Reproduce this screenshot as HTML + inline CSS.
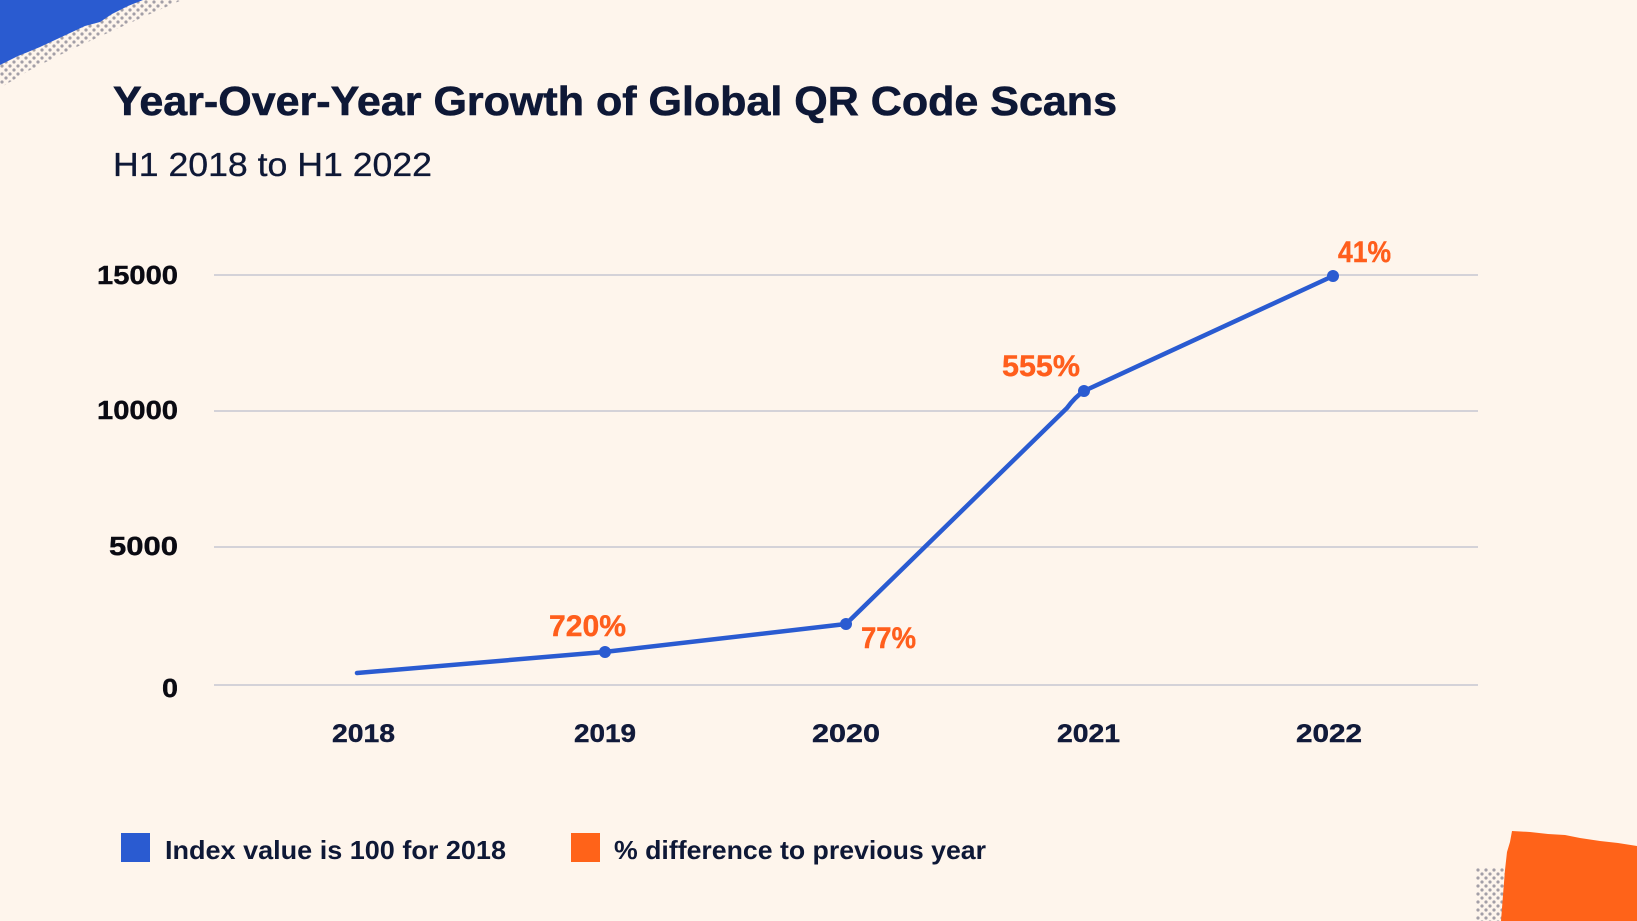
<!DOCTYPE html>
<html>
<head>
<meta charset="utf-8">
<style>
  html,body{margin:0;padding:0;background:#fef5ec;}
  svg{display:block;}
  text{font-family:"Liberation Sans",Arial,sans-serif;}
</style>
</head>
<body>
<svg width="1637" height="921" viewBox="0 0 1637 921" xmlns="http://www.w3.org/2000/svg">
  <defs>
    <pattern id="dots" x="0" y="0" width="8" height="8" patternUnits="userSpaceOnUse">
      <circle cx="2" cy="2" r="1.6" fill="#a39fa7"/>
      <circle cx="6" cy="6" r="1.6" fill="#a39fa7"/>
    </pattern>
  </defs>
  <rect x="0" y="0" width="1637" height="921" fill="#fef5ec"/>

  <!-- top-left decoration -->
  <polygon points="0,0 182,0 150,14 110,32 70,50 30,70 0,88" fill="url(#dots)"/>
  <polygon points="0,0 143,0 128,6 112,14 100,22 85,26 70,33 55,40 40,47 28,52 18,56 8,61 0,65" fill="#2a5bd0"/>

  <!-- bottom-right decoration -->
  <rect x="1476" y="868" width="36" height="53" fill="url(#dots)"/>
  <polygon points="1512,831 1530,832 1548,834 1565,835 1580,838 1600,841 1618,843 1637,846 1637,921 1501,921 1503,895 1505,870 1507,852 1510,842" fill="#ff6319"/>

  <!-- title -->
  <text x="113" y="115" font-size="41" font-weight="bold" fill="#0e1836" stroke="#0e1836" stroke-width="0.6" textLength="1004" lengthAdjust="spacingAndGlyphs">Year-Over-Year Growth of Global QR Code Scans</text>
  <text x="113" y="176" font-size="33" fill="#0e1836" stroke="#0e1836" stroke-width="0.3" textLength="319" lengthAdjust="spacingAndGlyphs">H1 2018 to H1 2022</text>

  <!-- gridlines -->
  <g stroke="#c6c6d2" stroke-width="1.5">
    <line x1="214" y1="275" x2="1478" y2="275"/>
    <line x1="214" y1="411" x2="1478" y2="411"/>
    <line x1="214" y1="547" x2="1478" y2="547"/>
    <line x1="214" y1="685" x2="1478" y2="685"/>
  </g>

  <!-- y labels -->
  <g font-size="26" font-weight="bold" fill="#0a0a12" stroke="#0a0a12" stroke-width="0.4" text-anchor="end">
    <text x="178" y="284" textLength="81" lengthAdjust="spacingAndGlyphs">15000</text>
    <text x="178" y="419" textLength="81" lengthAdjust="spacingAndGlyphs">10000</text>
    <text x="178" y="555" textLength="69" lengthAdjust="spacingAndGlyphs">5000</text>
    <text x="178" y="697" textLength="16" lengthAdjust="spacingAndGlyphs">0</text>
  </g>

  <!-- x labels -->
  <g font-size="25" font-weight="bold" fill="#111a3a" stroke="#111a3a" stroke-width="0.4">
    <text x="332" y="742" textLength="63" lengthAdjust="spacingAndGlyphs">2018</text>
    <text x="574" y="742" textLength="62" lengthAdjust="spacingAndGlyphs">2019</text>
    <text x="812" y="742" textLength="68" lengthAdjust="spacingAndGlyphs">2020</text>
    <text x="1057" y="742" textLength="63" lengthAdjust="spacingAndGlyphs">2021</text>
    <text x="1296" y="742" textLength="66" lengthAdjust="spacingAndGlyphs">2022</text>
  </g>

  <!-- series line -->
  <path d="M357,673 L604,652 L846,624 L1067,408 Q1075,397 1084,391 L1333,276" fill="none" stroke="#2a5bd1" stroke-width="4.5" stroke-linecap="round" stroke-linejoin="round"/>
  <g fill="#2a5bd1">
    <circle cx="605" cy="652" r="6"/>
    <circle cx="846" cy="624" r="6"/>
    <circle cx="1084" cy="391" r="6"/>
    <circle cx="1333" cy="276" r="6"/>
  </g>

  <!-- percentage labels -->
  <g font-size="30" font-weight="bold" fill="#ff5e1c" stroke="#ff5e1c" stroke-width="0.4">
    <text x="549" y="636" textLength="77" lengthAdjust="spacingAndGlyphs">720%</text>
    <text x="861" y="648" textLength="55" lengthAdjust="spacingAndGlyphs">77%</text>
    <text x="1002" y="376" textLength="78" lengthAdjust="spacingAndGlyphs">555%</text>
    <text x="1338" y="262" textLength="53" lengthAdjust="spacingAndGlyphs">41%</text>
  </g>

  <!-- legend -->
  <rect x="121" y="833" width="29" height="29" fill="#2a5bd1"/>
  <text x="165" y="859" font-size="26" font-weight="bold" fill="#0e1836" textLength="341" lengthAdjust="spacingAndGlyphs">Index value is 100 for 2018</text>
  <rect x="571" y="833" width="29" height="29" fill="#ff6319"/>
  <text x="614" y="859" font-size="26" font-weight="bold" fill="#0e1836" textLength="372" lengthAdjust="spacingAndGlyphs">% difference to previous year</text>
</svg>
</body>
</html>
